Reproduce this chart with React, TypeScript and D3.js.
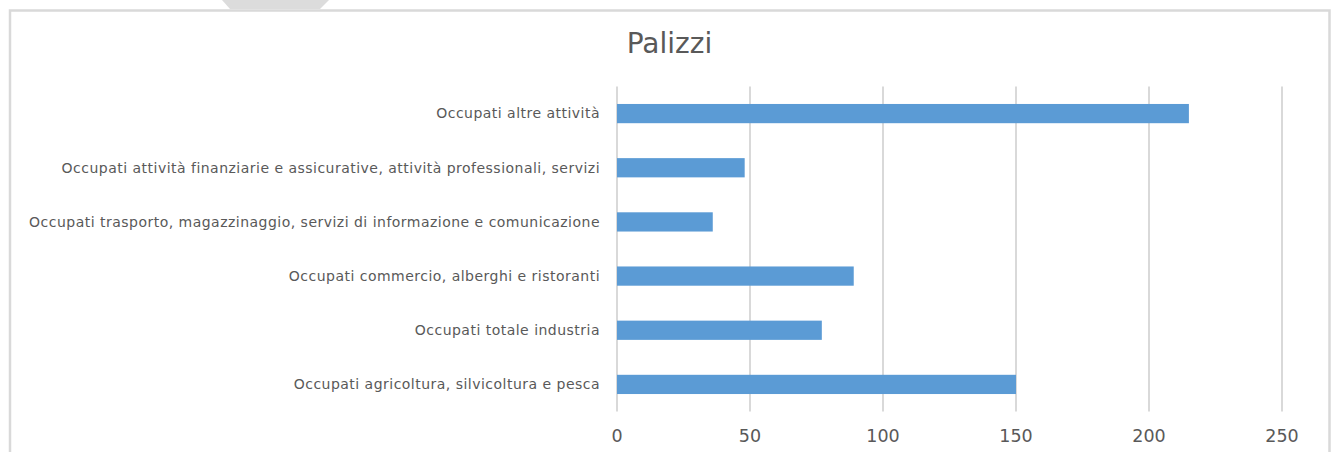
import * as d3 from 'd3'
import { useEffect, useRef } from 'react'

const categories = [
  'Occupati altre attività',
  'Occupati attività finanziarie e assicurative, attività professionali, servizi',
  'Occupati trasporto, magazzinaggio, servizi di informazione e comunicazione',
  'Occupati commercio, alberghi e ristoranti',
  'Occupati totale industria',
  'Occupati agricoltura, silvicoltura e pesca',
]
const values = [215, 48, 36, 89, 77, 150]
const xTicks = [0, 50, 100, 150, 200, 250]
const title = 'Palizzi'

const W = 1336
const H = 452
const FONT = '"DejaVu Sans", sans-serif'

const App = () => {
  const svgRef = useRef<SVGSVGElement>(null)

  useEffect(() => {
    const svg = d3.select(svgRef.current)
    svg.selectAll('*').remove()

    const margin = { top: 86.5, right: 54, bottom: 40.5, left: 617 }
    const width = W - margin.left - margin.right
    const height = H - margin.top - margin.bottom

    // chart frame (only top, left and right edges are in view)
    svg
      .append('path')
      .attr('d', `M10,${H + 5} L10,10.5 L1329.5,10.5 L1329.5,${H + 5}`)
      .attr('fill', 'none')
      .attr('stroke', '#d9d9d9')
      .attr('stroke-width', 2.5)

    // grey tab at the top edge
    svg
      .append('polygon')
      .attr('points', '222,0 329,0 320,9 230,9')
      .attr('fill', '#dcdcdc')

    svg
      .append('text')
      .attr('x', 669.5)
      .attr('y', 53)
      .attr('text-anchor', 'middle')
      .style('font-family', FONT)
      .style('font-size', '28px')
      .style('fill', '#595959')
      .text(title)

    const x = d3.scaleLinear().domain([0, 250]).range([0, width])
    const y = d3
      .scaleBand()
      .domain(categories)
      .range([0, height])
      .paddingInner(0.645)
      .paddingOuter(0.3225)

    const g = svg.append('g').attr('transform', `translate(${margin.left},${margin.top})`)

    // vertical gridlines
    g.selectAll('.grid')
      .data(xTicks)
      .enter()
      .append('line')
      .attr('class', 'grid')
      .attr('x1', (d) => x(d))
      .attr('x2', (d) => x(d))
      .attr('y1', 0)
      .attr('y2', height)
      .attr('stroke', '#d9d9d9')
      .attr('stroke-width', 2)

    // bars
    g.selectAll('.bar')
      .data(values)
      .enter()
      .append('rect')
      .attr('class', 'bar')
      .attr('x', x(0))
      .attr('y', (d, i) => y(categories[i]) as number)
      .attr('width', (d) => x(d) - x(0))
      .attr('height', y.bandwidth())
      .attr('fill', '#5b9bd5')

    // category labels
    g.selectAll('.cat')
      .data(categories)
      .enter()
      .append('text')
      .attr('class', 'cat')
      .attr('x', -17)
      .attr('y', (d) => (y(d) as number) + y.bandwidth() / 2)
      .attr('dy', '0.35em')
      .attr('text-anchor', 'end')
      .style('font-family', FONT)
      .style('font-size', '14px')
      .style('letter-spacing', '0.48px')
      .style('fill', '#595959')
      .text((d) => d)

    // x tick labels
    g.selectAll('.tick-label')
      .data(xTicks)
      .enter()
      .append('text')
      .attr('class', 'tick-label')
      .attr('x', (d) => x(d))
      .attr('y', height + 30)
      .attr('text-anchor', 'middle')
      .style('font-family', FONT)
      .style('font-size', '17.5px')
      .style('fill', '#595959')
      .text((d) => `${d}`)
  }, [])

  return (
    <svg
      ref={svgRef}
      width={W}
      height={H}
      style={{ position: 'absolute', left: 0, top: 0, background: '#fff' }}
    ></svg>
  )
}

export default App
